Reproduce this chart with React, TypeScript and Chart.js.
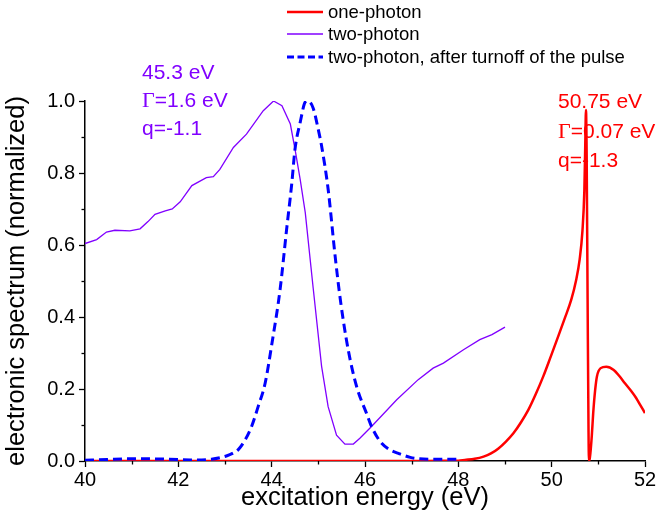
import React, { useEffect, useRef } from "react";
import { Chart, registerables } from "chart.js";

Chart.register(...registerables);

// two-photon spectrum (thin violet polyline)
const twoPhotonEnergy = [
  40.0, 40.25, 40.46, 40.64, 40.96, 41.18, 41.35, 41.5, 41.72, 41.87, 42.04, 42.29,
  42.6, 42.75, 42.89, 43.18, 43.46, 43.82, 44.04, 44.22, 44.4, 44.5, 44.61, 44.72,
  44.89, 45.07, 45.21, 45.39, 45.57, 45.75, 45.89, 46.14, 46.68, 47.14, 47.46, 47.68,
  48.11, 48.46, 48.72, 49.0,
];
const twoPhoton = [
  0.604, 0.615, 0.636, 0.641, 0.639, 0.645, 0.665, 0.685, 0.695, 0.7, 0.72, 0.765,
  0.787, 0.79, 0.81, 0.871, 0.908, 0.973, 1.0, 0.987, 0.936, 0.866, 0.783, 0.69,
  0.48, 0.263, 0.151, 0.072, 0.047, 0.047, 0.063, 0.096, 0.17, 0.226, 0.258, 0.272,
  0.309, 0.337, 0.351, 0.372,
];

// two-photon spectrum after the pulse is switched off (dashed blue)
const afterPulseEnergy = [
  40.0, 40.47, 40.92, 41.37, 41.81, 42.26, 42.71, 42.89, 43.03, 43.16, 43.28, 43.43,
  43.57, 43.71, 43.86, 44.01, 44.18, 44.32, 44.43, 44.5, 44.61, 44.72, 44.78, 44.89,
  45.0, 45.07, 45.21, 45.36, 45.48, 45.64, 45.82, 46.04, 46.14, 46.32, 46.52, 46.74,
  46.97, 47.17, 47.46, 47.73, 47.96,
];
const afterPulse = [
  0.002, 0.004, 0.006, 0.006, 0.005, 0.003, 0.005, 0.009, 0.014, 0.021, 0.031, 0.058,
  0.096, 0.151, 0.216, 0.33, 0.476, 0.643, 0.77, 0.866, 0.94, 0.997, 1.0, 0.98, 0.92,
  0.875, 0.755, 0.569, 0.44, 0.309, 0.207, 0.13, 0.096, 0.055, 0.032, 0.02, 0.01,
  0.006, 0.005, 0.005, 0.005,
];

// one-photon spectrum (thick red)
const onePhotonEnergy = [
  40.0, 44.0, 47.0, 47.6, 48.0, 48.14, 48.35, 48.54, 48.7, 48.86, 49.02, 49.18, 49.34,
  49.5, 49.66, 49.82, 49.98, 50.14, 50.28, 50.42, 50.52, 50.6, 50.66, 50.7, 50.72,
  50.735, 50.75, 50.77, 50.79, 50.8, 50.82, 50.86, 50.89, 50.93, 50.97, 51.05, 51.17,
  51.33, 51.45, 51.57, 51.7, 51.81, 51.9, 52.0,
];
const onePhoton = [
  0.0, 0.0, 0.0, 0.0005, 0.001, 0.003, 0.006, 0.012, 0.021, 0.035, 0.054, 0.077, 0.107,
  0.142, 0.186, 0.235, 0.29, 0.346, 0.396, 0.448, 0.5, 0.56, 0.64, 0.75, 0.88, 0.975,
  0.85, 0.45, 0.08, 0.0, 0.01, 0.07, 0.133, 0.195, 0.235, 0.258, 0.262, 0.253, 0.236,
  0.216, 0.195, 0.175, 0.155, 0.133,
];

const seriesNames = ["one-photon", "two-photon", "two-photon, after turnoff of the pulse"];
const xMinorTicks = [41, 43, 45, 47, 49, 51];
const yMinorTicks = [0.1, 0.3, 0.5, 0.7, 0.9];

// resonance parameters printed beside each peak: [Greek prefix, rest of line]
const twoPhotonNotes = [
  ["", "45.3 eV"],
  ["\u0393", "=1.6 eV"],
  ["", "q=-1.1"],
];
const onePhotonNotes = [
  ["", "50.75 eV"],
  ["\u0393", "=0.07 eV"],
  ["", "q=-1.3"],
];

const RED = "#ff0000";
const VIOLET = "#8000ff";
const BLUE = "#0000ff";
const SANS = '"Liberation Sans", Arial, sans-serif';
const SERIF = '"Liberation Serif", "Times New Roman", serif';

const toPoints = (xs: number[], ys: number[]) => xs.map((x, i) => ({ x, y: ys[i] }));

const overlay = {
  id: "overlay",
  afterDraw(chart: any) {
    const { ctx, chartArea } = chart;
    const xs = chart.scales.x;
    const ys = chart.scales.y;
    ctx.save();

    // minor tick marks
    ctx.strokeStyle = "#000";
    ctx.lineWidth = 1.3;
    for (const v of xMinorTicks) {
      const px = Math.round(xs.getPixelForValue(v)) + 0.5;
      ctx.beginPath();
      ctx.moveTo(px, chartArea.bottom);
      ctx.lineTo(px, chartArea.bottom + 3.5);
      ctx.stroke();
    }
    for (const v of yMinorTicks) {
      const py = Math.round(ys.getPixelForValue(v)) + 0.5;
      ctx.beginPath();
      ctx.moveTo(chartArea.left, py);
      ctx.lineTo(chartArea.left - 3.5, py);
      ctx.stroke();
    }

    // legend
    const datasets = chart.data.datasets;
    const legendRows = [12, 34, 57];
    ctx.font = `18.5px ${SANS}`;
    ctx.textBaseline = "middle";
    ctx.textAlign = "left";
    datasets.forEach((ds: any, i: number) => {
      const y = legendRows[i];
      ctx.strokeStyle = ds.borderColor;
      ctx.lineWidth = ds.borderWidth;
      ctx.setLineDash(ds.borderDash && ds.borderDash.length ? [7, 3.5] : []);
      ctx.beginPath();
      ctx.moveTo(287, y);
      ctx.lineTo(323, y);
      ctx.stroke();
      ctx.setLineDash([]);
      ctx.fillStyle = "#000";
      ctx.fillText(ds.label, 328, y + 1);
    });

    // resonance annotations
    const drawNotes = (notes: string[][], x: number, baselines: number[], color: string) => {
      ctx.fillStyle = color;
      ctx.textBaseline = "alphabetic";
      notes.forEach(([greek, rest], i) => {
        let cx = x;
        if (greek) {
          ctx.font = `22px ${SERIF}`;
          ctx.fillText(greek, cx, baselines[i]);
          cx += ctx.measureText(greek).width;
        }
        ctx.font = `21px ${SANS}`;
        ctx.fillText(rest, cx, baselines[i]);
      });
    };
    drawNotes(twoPhotonNotes, 142, [79, 107, 135], VIOLET);
    drawNotes(onePhotonNotes, 558, [108, 138, 167], RED);

    ctx.restore();
  },
};

export default function App() {
  const canvasRef = useRef<HTMLCanvasElement | null>(null);

  useEffect(() => {
    const canvas = canvasRef.current;
    if (!canvas) return;
    const chart = new Chart(canvas, {
      type: "line",
      data: {
        datasets: [
          {
            label: seriesNames[0],
            data: toPoints(onePhotonEnergy, onePhoton),
            borderColor: RED,
            backgroundColor: RED,
            borderWidth: 2.5,
            pointRadius: 0,
            cubicInterpolationMode: "monotone",
            borderDash: [],
            order: 3,
          },
          {
            label: seriesNames[1],
            data: toPoints(twoPhotonEnergy, twoPhoton),
            borderColor: VIOLET,
            backgroundColor: VIOLET,
            borderWidth: 1.3,
            pointRadius: 0,
            tension: 0,
            borderDash: [],
            order: 2,
          },
          {
            label: seriesNames[2],
            data: toPoints(afterPulseEnergy, afterPulse),
            borderColor: BLUE,
            backgroundColor: BLUE,
            borderWidth: 3,
            pointRadius: 0,
            cubicInterpolationMode: "monotone",
            borderDash: [9, 5],
            order: 1,
          },
        ],
      },
      options: {
        responsive: false,
        animation: false,
        devicePixelRatio: 1,
        layout: { padding: { left: 0, right: 16, top: 101, bottom: 0 } },
        plugins: {
          legend: { display: false },
          tooltip: { enabled: false },
        },
        scales: {
          x: {
            type: "linear",
            min: 40,
            max: 52,
            afterFit: (s: any) => {
              s.height = 58;
            },
            ticks: {
              stepSize: 2,
              color: "#000",
              padding: 1,
              font: { family: SANS, size: 20 },
              callback: (v: any) => String(v),
            },
            grid: {
              drawOnChartArea: false,
              drawTicks: true,
              tickLength: 6,
              tickColor: "#000",
              tickWidth: 1.3,
            },
            border: { display: true, color: "#000", width: 1.5 },
            title: {
              display: true,
              text: "excitation energy (eV)",
              color: "#000",
              font: { family: SANS, size: 25.5 },
              padding: { top: 0, bottom: 6 },
            },
          },
          y: {
            type: "linear",
            min: 0,
            max: 1,
            afterFit: (s: any) => {
              s.width = 85;
            },
            ticks: {
              stepSize: 0.2,
              color: "#000",
              padding: 4,
              font: { family: SANS, size: 20 },
              callback: (v: any) => Number(v).toFixed(1),
            },
            grid: {
              drawOnChartArea: false,
              drawTicks: true,
              tickLength: 6,
              tickColor: "#000",
              tickWidth: 1.3,
            },
            border: { display: true, color: "#000", width: 1.5 },
            title: {
              display: true,
              text: "electronic spectrum (normalized)",
              color: "#000",
              font: { family: SANS, size: 25.5 },
              padding: { top: 2, bottom: 0 },
            },
          },
        },
      },
      plugins: [overlay],
    });
    return () => chart.destroy();
  }, []);

  return (
    <div style={{ position: "fixed", left: 0, top: 0, width: 661, height: 519, background: "#fff" }}>
      <canvas ref={canvasRef} width={661} height={519} style={{ display: "block" }} />
    </div>
  );
}
